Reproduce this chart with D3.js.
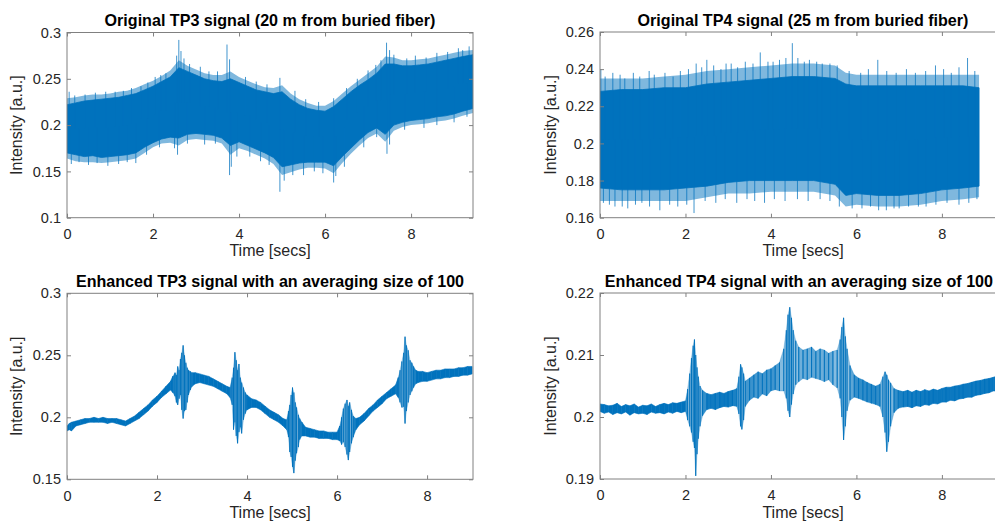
<!DOCTYPE html>
<html><head><meta charset="utf-8">
<script src="https://cdn.jsdelivr.net/npm/d3@7"></script>
<style>
body{margin:0;background:#fff}
svg{display:block}
text{font-family:"Liberation Sans",Arial,Helvetica,sans-serif}
</style>
</head><body>
<svg id="chart" width="995" height="527"></svg>
<script>
// ---------------- DATA ----------------
const titles = [
  "Original TP3 signal (20 m from buried fiber)",
  "Original TP4 signal (25 m from buried fiber)",
  "Enhanced TP3 signal with an averaging size of 100",
  "Enhanced TP4 signal with an averaging size of 100"
];
const xLabel = "Time [secs]";
const yLabel = "Intensity [a.u.]";
const xTicks = [0, 2, 4, 6, 8];
const yTicksTP3orig = [0.1, 0.15, 0.2, 0.25, 0.3];
const yTicksTP4orig = [0.16, 0.18, 0.2, 0.22, 0.24, 0.26];
const yTicksTP3enh = [0.15, 0.2, 0.25, 0.3];
const yTicksTP4enh = [0.19, 0.2, 0.21, 0.22];

// Original TP3: dense core band, outer fuzzy fringe, and spikes
const tp3Time  = [0,0.2,0.4,0.6,0.8,1.0,1.2,1.4,1.6,1.8,2.0,2.2,2.4,2.6,2.8,3.0,3.2,3.4,3.6,3.8,4.0,4.2,4.4,4.6,4.8,5.0,5.2,5.4,5.6,5.8,6.0,6.2,6.4,6.6,6.8,7.0,7.2,7.4,7.6,7.8,8.0,8.2,8.4,8.6,8.8,9.0,9.2,9.44];
const tp3Upper = [0.222,0.224,0.226,0.227,0.228,0.229,0.230,0.232,0.234,0.238,0.242,0.247,0.252,0.262,0.258,0.254,0.250,0.248,0.247,0.250,0.246,0.242,0.238,0.236,0.234,0.236,0.228,0.222,0.218,0.216,0.215,0.220,0.228,0.236,0.243,0.249,0.256,0.266,0.266,0.264,0.264,0.265,0.266,0.268,0.270,0.272,0.274,0.276];
const tp3Lower = [0.170,0.168,0.166,0.167,0.165,0.166,0.167,0.168,0.170,0.176,0.181,0.185,0.187,0.186,0.190,0.191,0.190,0.189,0.186,0.178,0.182,0.178,0.174,0.170,0.165,0.155,0.157,0.159,0.160,0.160,0.160,0.156,0.166,0.175,0.184,0.192,0.197,0.190,0.200,0.203,0.205,0.206,0.207,0.209,0.210,0.212,0.215,0.218];
const tp3OuterUpper = [0.229,0.230,0.232,0.233,0.233,0.234,0.236,0.237,0.240,0.244,0.248,0.253,0.259,0.270,0.264,0.260,0.256,0.254,0.254,0.258,0.252,0.248,0.244,0.241,0.240,0.243,0.234,0.228,0.224,0.221,0.221,0.226,0.234,0.242,0.249,0.256,0.263,0.274,0.273,0.270,0.270,0.271,0.272,0.274,0.276,0.278,0.280,0.281];
const tp3OuterLower = [0.164,0.161,0.160,0.160,0.159,0.160,0.161,0.162,0.164,0.170,0.176,0.180,0.181,0.178,0.184,0.185,0.184,0.183,0.180,0.168,0.175,0.172,0.168,0.164,0.158,0.146,0.149,0.152,0.154,0.154,0.153,0.148,0.159,0.169,0.178,0.186,0.191,0.182,0.194,0.198,0.200,0.201,0.202,0.204,0.205,0.207,0.210,0.213];
const tp3SpikeT = [0.05,0.9,1.5,2.05,2.3,2.55,2.6,2.65,2.72,3.1,3.72,3.78,4.95,5.3,6.5,7.0,7.3,7.43,7.5,7.6,8.1,8.6,9.1,9.35,
                   0.18,0.42,0.66,1.12,1.31,1.72,1.88,2.18,2.85,3.3,3.5,4.15,4.4,4.65,5.55,5.85,6.2,6.75,7.18,7.9,8.35,8.85,9.2,
                   0.1,0.5,0.95,1.6,2.5,2.57,3.2,3.78,3.82,4.5,4.95,5.05,5.5,6.2,6.25,7.44,7.5,8.3,9.0,
                   0.28,0.7,1.2,1.4,1.85,2.15,2.8,3.45,3.95,4.25,4.7,5.25,5.75,5.95,6.45,6.9,7.2,7.85,8.6,9.3];
const tp3SpikeV = [0.236,0.236,0.240,0.252,0.256,0.275,0.292,0.280,0.272,0.263,0.287,0.271,0.251,0.237,0.240,0.259,0.270,0.289,0.281,0.276,0.275,0.278,0.283,0.285,
                   0.232,0.233,0.235,0.236,0.237,0.242,0.246,0.254,0.266,0.258,0.258,0.252,0.247,0.244,0.228,0.225,0.229,0.250,0.265,0.272,0.273,0.279,0.281,
                   0.158,0.157,0.156,0.159,0.175,0.168,0.179,0.146,0.155,0.161,0.128,0.140,0.146,0.138,0.145,0.169,0.179,0.197,0.203,
                   0.160,0.159,0.158,0.160,0.168,0.176,0.180,0.180,0.166,0.166,0.157,0.146,0.150,0.148,0.155,0.176,0.187,0.195,0.200,0.209];

// Original TP4
const tp4Time  = [0,0.5,1.0,1.5,2.0,2.5,3.0,3.5,4.0,4.5,5.0,5.5,5.75,6.0,6.5,7.0,7.5,8.0,8.5,8.87];
const tp4Upper = [0.228,0.229,0.229,0.230,0.230,0.232,0.233,0.234,0.235,0.236,0.236,0.235,0.232,0.231,0.231,0.231,0.231,0.231,0.231,0.230];
const tp4Lower = [0.176,0.175,0.175,0.175,0.176,0.177,0.179,0.180,0.180,0.180,0.180,0.178,0.172,0.173,0.172,0.172,0.173,0.175,0.176,0.177];
const tp4OuterUpper = [0.235,0.235,0.235,0.236,0.237,0.239,0.240,0.241,0.242,0.243,0.243,0.242,0.238,0.237,0.237,0.237,0.237,0.237,0.237,0.237];
const tp4OuterLower = [0.169,0.169,0.169,0.169,0.169,0.171,0.173,0.173,0.174,0.174,0.174,0.172,0.166,0.167,0.166,0.166,0.167,0.169,0.170,0.171];
const tp4SpikeT = [0.02,0.3,1.15,2.25,2.5,2.95,3.4,3.75,4.05,4.35,4.5,4.9,5.2,6.5,7.85,8.6,
                   0.12,0.47,0.58,0.78,0.93,1.27,1.52,1.71,1.88,2.07,2.38,2.66,2.83,3.07,3.22,3.58,3.93,4.2,4.63,4.78,5.07,5.38,5.55,5.83,6.1,6.28,6.71,6.93,7.17,7.38,7.62,8.04,8.22,8.4,8.77,
                   0.35,0.65,1.4,2.2,3.2,3.85,5.6,5.9,6.7,7.0,7.45,8.4,
                   0.08,0.22,0.52,0.83,0.98,1.16,1.63,1.82,2.03,2.46,2.71,2.93,3.44,3.62,4.08,4.33,4.62,4.87,5.15,5.38,6.13,6.33,6.52,6.88,7.22,7.63,7.86,8.12,8.63,8.82];
const tp4SpikeV = [0.240,0.238,0.239,0.243,0.245,0.243,0.244,0.249,0.244,0.246,0.254,0.245,0.243,0.245,0.242,0.246,
                   0.236,0.237,0.235,0.238,0.236,0.237,0.238,0.236,0.239,0.240,0.241,0.242,0.240,0.243,0.241,0.243,0.244,0.245,0.246,0.244,0.244,0.243,0.242,0.239,0.238,0.240,0.239,0.238,0.240,0.238,0.239,0.240,0.238,0.241,0.239,
                   0.166,0.165,0.164,0.1625,0.168,0.168,0.166,0.165,0.164,0.165,0.166,0.167,
                   0.168,0.167,0.166,0.167,0.168,0.166,0.167,0.166,0.167,0.169,0.168,0.170,0.170,0.169,0.170,0.169,0.170,0.169,0.170,0.169,0.165,0.166,0.164,0.165,0.166,0.166,0.167,0.168,0.168,0.170];

// Enhanced TP3 (moving average of 100): per-interval min / max of the trace
const tp3eTime = [0,0.05,0.1,0.2,0.3,0.4,0.5,0.6,0.7,0.8,0.9,1.0,1.1,1.2,1.3,1.4,1.5,1.6,1.7,1.8,1.9,2.0,2.1,2.2,2.3,2.35,2.4,2.43,2.46,2.49,2.52,2.55,2.58,2.61,2.64,2.67,2.7,2.74,2.78,2.85,2.95,3.05,3.15,3.25,3.35,3.45,3.55,3.62,3.67,3.7,3.73,3.76,3.79,3.82,3.85,3.88,3.92,3.96,4.0,4.1,4.2,4.3,4.4,4.5,4.6,4.7,4.8,4.88,4.92,4.95,4.98,5.01,5.04,5.07,5.1,5.14,5.17,5.22,5.3,5.4,5.5,5.6,5.7,5.8,5.9,6.0,6.06,6.1,6.14,6.18,6.22,6.25,6.28,6.32,6.36,6.42,6.5,6.6,6.7,6.8,6.9,7.0,7.1,7.2,7.3,7.36,7.4,7.44,7.48,7.51,7.54,7.58,7.62,7.66,7.7,7.75,7.8,7.9,8.0,8.1,8.2,8.3,8.4,8.5,8.6,8.7,8.8,8.9,9.0];
const tp3eMin  = [0.189,0.190,0.189,0.193,0.194,0.195,0.196,0.196,0.196,0.196,0.195,0.196,0.195,0.194,0.193,0.195,0.197,0.199,0.202,0.205,0.209,0.212,0.216,0.219,0.222,0.220,0.217,0.212,0.210,0.215,0.218,0.206,0.199,0.205,0.206,0.212,0.218,0.222,0.225,0.227,0.228,0.227,0.226,0.225,0.223,0.221,0.219,0.216,0.210,0.190,0.196,0.185,0.179,0.188,0.192,0.187,0.198,0.203,0.206,0.208,0.208,0.206,0.203,0.200,0.198,0.196,0.193,0.190,0.184,0.172,0.168,0.160,0.155,0.165,0.171,0.176,0.182,0.185,0.185,0.184,0.184,0.183,0.183,0.183,0.182,0.182,0.181,0.178,0.180,0.176,0.170,0.1655,0.172,0.179,0.184,0.190,0.194,0.197,0.201,0.205,0.208,0.211,0.215,0.217,0.219,0.216,0.212,0.208,0.2085,0.195,0.205,0.212,0.218,0.221,0.224,0.227,0.228,0.229,0.229,0.230,0.231,0.231,0.232,0.232,0.233,0.233,0.234,0.234,0.235];
const tp3eMax  = [0.193,0.195,0.196,0.197,0.198,0.199,0.199,0.200,0.199,0.200,0.199,0.199,0.199,0.198,0.197,0.199,0.201,0.204,0.207,0.210,0.214,0.217,0.221,0.225,0.229,0.233,0.236,0.234,0.241,0.238,0.247,0.252,0.258,0.250,0.244,0.240,0.238,0.237,0.236,0.236,0.235,0.234,0.233,0.231,0.229,0.227,0.225,0.224,0.232,0.240,0.2525,0.246,0.238,0.243,0.232,0.228,0.224,0.220,0.218,0.215,0.214,0.212,0.209,0.206,0.204,0.202,0.199,0.198,0.205,0.210,0.218,0.224,0.220,0.212,0.208,0.202,0.199,0.196,0.192,0.191,0.190,0.189,0.189,0.188,0.188,0.188,0.193,0.200,0.207,0.211,0.214,0.209,0.212,0.206,0.201,0.199,0.200,0.203,0.207,0.210,0.214,0.217,0.220,0.223,0.226,0.232,0.238,0.245,0.252,0.265,0.258,0.254,0.246,0.244,0.241,0.238,0.237,0.237,0.236,0.237,0.238,0.238,0.239,0.239,0.239,0.240,0.240,0.241,0.241];

// Enhanced TP4 (moving average of 100): per-interval min / max of the trace
const tp4eTime = [0,0.1,0.2,0.3,0.4,0.5,0.6,0.7,0.8,0.9,1.0,1.1,1.2,1.3,1.4,1.5,1.6,1.7,1.8,1.9,2.0,2.05,2.1,2.14,2.18,2.21,2.24,2.27,2.3,2.34,2.4,2.5,2.6,2.7,2.8,2.9,3.0,3.1,3.2,3.25,3.29,3.32,3.36,3.4,3.5,3.6,3.7,3.8,3.9,4.0,4.1,4.2,4.3,4.36,4.4,4.44,4.48,4.52,4.58,4.65,4.75,4.85,4.95,5.05,5.15,5.25,5.35,5.45,5.55,5.62,5.66,5.7,5.74,5.78,5.85,5.95,6.05,6.15,6.25,6.35,6.45,6.55,6.62,6.67,6.71,6.75,6.8,6.88,6.98,7.1,7.2,7.3,7.4,7.5,7.6,7.7,7.8,7.9,8.0,8.1,8.2,8.3,8.4,8.5,8.6,8.7,8.8,8.9,9.0,9.1,9.2,9.3];
const tp4eMin  = [0.2009,0.2006,0.2008,0.2004,0.2007,0.2005,0.2008,0.2003,0.2007,0.2005,0.2006,0.2004,0.2008,0.2006,0.2007,0.2005,0.2008,0.2006,0.2009,0.2007,0.2009,0.1995,0.1985,0.1975,0.1960,0.1950,0.1905,0.1940,0.1965,0.1985,0.2002,0.2012,0.2014,0.2012,0.2015,0.2017,0.2016,0.2018,0.2017,0.2005,0.1985,0.1980,0.1995,0.2017,0.2027,0.2032,0.2030,0.2037,0.2034,0.2042,0.2044,0.2042,0.2042,0.2030,0.2010,0.2000,0.2020,0.2037,0.2052,0.2057,0.2062,0.2060,0.2064,0.2062,0.2060,0.2057,0.2060,0.2052,0.2047,0.2030,0.2000,0.1963,0.1985,0.2010,0.2027,0.2032,0.2030,0.2027,0.2024,0.2022,0.2020,0.2017,0.2000,0.1975,0.1944,0.1960,0.1985,0.2007,0.2014,0.2016,0.2017,0.2015,0.2018,0.2017,0.2020,0.2019,0.2022,0.2021,0.2024,0.2024,0.2027,0.2026,0.2029,0.2030,0.2032,0.2032,0.2035,0.2036,0.2038,0.2039,0.2042,0.2042];
const tp4eMax  = [0.2021,0.2020,0.2018,0.2019,0.2022,0.2017,0.2020,0.2018,0.2021,0.2016,0.2019,0.2018,0.2021,0.2017,0.2020,0.2022,0.2020,0.2023,0.2022,0.2024,0.2026,0.2045,0.2070,0.2095,0.2115,0.2125,0.2100,0.2080,0.2065,0.2050,0.2043,0.2038,0.2036,0.2038,0.2040,0.2038,0.2041,0.2043,0.2046,0.2065,0.2085,0.2080,0.2070,0.2058,0.2063,0.2068,0.2073,0.2070,0.2076,0.2078,0.2083,0.2088,0.2110,0.2140,0.2165,0.2177,0.2160,0.2140,0.2123,0.2113,0.2108,0.2110,0.2113,0.2106,0.2110,0.2108,0.2103,0.2106,0.2108,0.2125,0.2145,0.2160,0.2130,0.2110,0.2083,0.2068,0.2063,0.2060,0.2056,0.2053,0.2050,0.2053,0.2065,0.2073,0.2068,0.2060,0.2055,0.2046,0.2043,0.2041,0.2043,0.2040,0.2043,0.2041,0.2044,0.2042,0.2045,0.2043,0.2046,0.2048,0.2048,0.2050,0.2051,0.2053,0.2054,0.2056,0.2058,0.2059,0.2061,0.2062,0.2064,0.2066];

// ---------------- DRAWING ----------------
const svg = d3.select("#chart");
const blue = "#0072BD";
const fmt = v => String(+v.toFixed(3));
const axisColor = "#808080";
const txtColor = "#262626";

function frame(cfg) {
  const {left, top, width, height, xDomain, yDomain, yTicks, title, id} = cfg;
  const x = d3.scaleLinear().domain(xDomain).range([left, left + width]);
  const y = d3.scaleLinear().domain(yDomain).range([top + height, top]);
  svg.append("clipPath").attr("id", "clip" + id)
    .append("rect").attr("x", left).attr("y", top).attr("width", width).attr("height", height);
  const g = svg.append("g").attr("clip-path", `url(#clip${id})`);

  const ax = (gen, tr) => {
    const a = svg.append("g").attr("transform", tr).call(gen);
    a.select(".domain").remove();
    a.selectAll("line").attr("stroke", axisColor);
    a.selectAll("text").attr("fill", txtColor).style("font-size", "14.5px");
    return a;
  };
  ax(d3.axisBottom(x).tickValues(xTicks).tickSize(-4).tickPadding(11).tickFormat(fmt), `translate(0,${top + height})`);
  ax(d3.axisTop(x).tickValues(xTicks).tickSize(-4).tickFormat(""), `translate(0,${top})`);
  ax(d3.axisLeft(y).tickValues(yTicks).tickSize(-4).tickPadding(6).tickFormat(fmt), `translate(${left},0)`);
  ax(d3.axisRight(y).tickValues(yTicks).tickSize(-4).tickFormat(""), `translate(${left + width},0)`);

  svg.append("rect").attr("x", left).attr("y", top).attr("width", width).attr("height", height)
    .attr("fill", "none").attr("stroke", axisColor).attr("stroke-width", 1);

  const t = svg.append("text").attr("x", left + width / 2).attr("y", top - 6.5)
    .attr("text-anchor", "middle").attr("font-weight", "bold").style("font-size", "16.1px")
    .attr("fill", "#000").text(title);
  // keep the title inside the figure if the axes run past its right edge
  const tw = t.node().getComputedTextLength();
  t.attr("x", Math.min(left + width / 2, 993 - tw / 2));

  svg.append("text").attr("x", left + width / 2).attr("y", top + height + 38.5)
    .attr("text-anchor", "middle").style("font-size", "16px").attr("fill", txtColor).text(xLabel);
  svg.append("text").attr("transform", `translate(${cfg.ylx},${top + height / 2}) rotate(-90)`)
    .attr("text-anchor", "middle").style("font-size", "16px").attr("fill", txtColor).text(yLabel);
  return {x, y, g};
}

// dense raw signal: fuzzy fringe + solid core + spikes
function denseSignal(cfg, time, upper, lower, outerU, outerL, spikeT, spikeV) {
  const {x, y, g} = frame(cfg);
  const pts = time.map((t, i) => ({t, u: upper[i], l: lower[i], ou: outerU[i], ol: outerL[i]}));
  g.append("path").datum(pts)
    .attr("fill", blue).attr("fill-opacity", 0.5)
    .attr("d", d3.area().x(d => x(d.t)).y0(d => y(d.ol)).y1(d => y(d.ou)));
  g.append("path").datum(pts)
    .attr("fill", blue).attr("stroke", blue).attr("stroke-width", 0.8)
    .attr("d", d3.area().x(d => x(d.t)).y0(d => y(d.l)).y1(d => y(d.u)));
  const bis = d3.bisector(d => d).center;
  g.selectAll("line.sp").data(spikeT.map((t, i) => ({t, v: spikeV[i]}))).join("line")
    .attr("class", "sp")
    .attr("x1", d => x(d.t)).attr("x2", d => x(d.t))
    .attr("y1", d => { const k = bis(time, d.t); return y((upper[k] + lower[k]) / 2); })
    .attr("y2", d => y(d.v))
    .attr("stroke", blue).attr("stroke-width", 1).attr("stroke-opacity", 0.75);
}

// averaged signal: each interval filled (solid where the trace is thin, lighter
// where it oscillates widely) plus a vertical stroke per wide interval
function minMaxTrace(cfg, time, mn, mx) {
  const {x, y, g} = frame(cfg);
  const pts = time.map((t, i) => ({t, lo: mn[i], hi: mx[i]}));
  const hpx = d => y(d.lo) - y(d.hi);
  g.selectAll("path.seg").data(d3.pairs(pts)).join("path")
    .attr("class", "seg")
    .attr("d", ([a, b]) => `M${x(a.t)},${y(a.hi)}L${x(b.t)},${y(b.hi)}L${x(b.t)},${y(b.lo)}L${x(a.t)},${y(a.lo)}Z`)
    .attr("fill", blue)
    .attr("stroke", blue).attr("stroke-width", 0.6)
    .attr("fill-opacity", ([a, b]) => {
      const h = (hpx(a) + hpx(b)) / 2;
      return Math.max(0.45, Math.min(1, 1 - (h - 12) / 45));
    })
    .attr("stroke-opacity", ([a, b]) => ((hpx(a) + hpx(b)) / 2 < 16 ? 1 : 0.4));
  g.selectAll("line.rung").data(pts.filter(d => hpx(d) > 14)).join("line")
    .attr("class", "rung")
    .attr("x1", d => x(d.t)).attr("x2", d => x(d.t))
    .attr("y1", d => y(d.hi)).attr("y2", d => y(d.lo))
    .attr("stroke", blue).attr("stroke-width", 1);
}

denseSignal({id: 1, left: 67, top: 32.5, width: 406, height: 185.2, xDomain: [0, 9.44], yDomain: [0.1, 0.3],
  yTicks: yTicksTP3orig, title: titles[0], ylx: 22}, tp3Time, tp3Upper, tp3Lower, tp3OuterUpper, tp3OuterLower, tp3SpikeT, tp3SpikeV);
denseSignal({id: 2, left: 600, top: 32, width: 406, height: 185.7, xDomain: [0, 9.5], yDomain: [0.16, 0.26],
  yTicks: yTicksTP4orig, title: titles[1], ylx: 556}, tp4Time, tp4Upper, tp4Lower, tp4OuterUpper, tp4OuterLower, tp4SpikeT, tp4SpikeV);
minMaxTrace({id: 3, left: 67, top: 293.3, width: 406, height: 186, xDomain: [0, 9.02], yDomain: [0.15, 0.3],
  yTicks: yTicksTP3enh, title: titles[2], ylx: 22}, tp3eTime, tp3eMin, tp3eMax);
minMaxTrace({id: 4, left: 600, top: 293, width: 406, height: 186, xDomain: [0, 9.5], yDomain: [0.19, 0.22],
  yTicks: yTicksTP4enh, title: titles[3], ylx: 556}, tp4eTime, tp4eMin, tp4eMax);
</script>
</body></html>
